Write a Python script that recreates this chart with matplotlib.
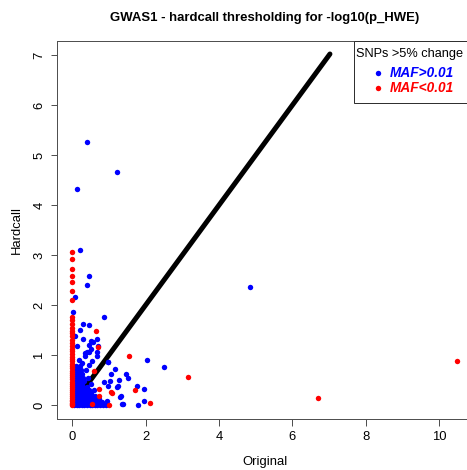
import matplotlib
matplotlib.use("Agg")
import matplotlib.pyplot as plt
from matplotlib.patches import Rectangle
from matplotlib.lines import Line2D

plt.rcParams['font.family'] = ['Liberation Sans', 'DejaVu Sans']

W, H = 467, 470
PX = 0.72  # points per pixel at dpi=100

# SNPs with no meaningful change: they sit on the identity diagonal
diag_x = [0.30, 7.02]
diag_y = [0.30, 7.02]

# SNPs with >5% change, MAF > 0.01 (original, hardcall)
blue_x = [0.41, 1.21, 0.12, 0.22, 0.45, 0.40, 0.08, 0.02, 0.86, 0.29, 0.45, 0.21,
          0.07, 0.30, 0.50, 0.57, 0.68, 0.14, 0.46, 0.35, 0.46, 0.66, 0.19, 0.26,
          0.53, 0.46, 0.96, 1.16, 1.05, 1.46, 1.53, 1.28, 0.87, 1.03, 1.25, 1.75,
          1.96, 1.33, 1.39, 1.78, 1.96, 0.94, 0.85, 2.03, 2.50, 4.83, 0.70, 0.52,
          0.41, 0.68, 0.34, 0.97, 1.31, 1.36, 1.23, 0.97,
          # dense low-value cluster
          0.05, 0.12, 0.19, 0.26, 0.33, 0.40, 0.47, 0.54, 0.61, 0.68, 0.76, 0.85, 0.92,
          0.04, 0.10, 0.17, 0.24, 0.31, 0.38, 0.45, 0.52, 0.60, 0.67, 0.74, 0.81,
          0.06, 0.13, 0.20, 0.27, 0.34, 0.41, 0.48, 0.55, 0.63, 0.72,
          0.04, 0.11, 0.18, 0.25, 0.32, 0.39, 0.46, 0.53, 0.62,
          0.07, 0.14, 0.21, 0.28, 0.35, 0.43, 0.51,
          0.05, 0.12, 0.19, 0.26, 0.33, 0.45, 0.58,
          0.08, 0.15, 0.22, 0.29, 0.40,
          0.06, 0.13, 0.20, 0.27, 0.52,
          0.09, 0.16, 0.24, 0.33,
          0.05, 0.12, 0.21, 0.30, 0.44,
          0.09, 0.18, 0.27,
          0.06, 0.15, 0.25, 0.38,
          0.11, 0.22]
blue_y = [5.26, 4.66, 4.33, 3.10, 2.59, 2.40, 2.17, 1.86, 1.76, 1.63, 1.60, 1.51,
          1.38, 1.32, 1.29, 1.26, 1.32, 1.18, 1.21, 1.04, 1.06, 0.98, 0.91, 0.84,
          0.88, 0.80, 0.86, 0.73, 0.63, 0.63, 0.54, 0.51, 0.46, 0.48, 0.38, 0.39,
          0.33, 0.19, 0.02, 0.00, 0.08, 0.08, 0.02, 0.90, 0.76, 2.36, 1.18, 1.12,
          1.06, 1.06, 0.99, 0.38, 0.16, 0.03, 0.36, 0.86,
          0.00, 0.00, 0.00, 0.00, 0.00, 0.00, 0.00, 0.00, 0.00, 0.00, 0.00, 0.00, 0.00,
          0.06, 0.06, 0.06, 0.06, 0.06, 0.06, 0.06, 0.06, 0.06, 0.06, 0.06, 0.06,
          0.12, 0.12, 0.12, 0.12, 0.12, 0.12, 0.12, 0.12, 0.12, 0.12,
          0.18, 0.18, 0.18, 0.18, 0.18, 0.18, 0.18, 0.18, 0.18,
          0.24, 0.24, 0.24, 0.24, 0.24, 0.24, 0.24,
          0.30, 0.30, 0.30, 0.30, 0.30, 0.30, 0.30,
          0.36, 0.36, 0.36, 0.36, 0.36,
          0.42, 0.42, 0.42, 0.42, 0.42,
          0.48, 0.48, 0.48, 0.48,
          0.55, 0.55, 0.55, 0.55, 0.55,
          0.62, 0.62, 0.62,
          0.70, 0.70, 0.70, 0.70,
          0.78, 0.78]

# SNPs with >5% change, MAF < 0.01 (original, hardcall)
red_x = [0.0] * 45 + [0.65, 0.69, 1.55, 3.16, 0.58, 0.72, 1.05, 1.07, 1.70, 2.12,
                      0.55, 0.99, 0.72, 6.69, 10.48]
red_y = [3.07, 2.93, 2.72, 2.59, 2.46, 2.29, 2.10, 1.76, 1.70, 1.62, 1.54, 1.49,
         1.44, 1.38, 1.30, 1.24, 1.19, 1.13, 1.08, 1.02, 0.97, 0.92, 0.88, 0.83,
         0.78, 0.74, 0.69, 0.65, 0.60, 0.56, 0.52, 0.47, 0.43, 0.39, 0.35, 0.31,
         0.27, 0.23, 0.19, 0.15, 0.11, 0.08, 0.05, 0.02, 0.00,
         1.48, 1.16, 0.98, 0.57, 0.68, 0.33, 0.26, 0.24, 0.30, 0.04,
         0.03, 0.00, 0.19, 0.15, 0.88]

x_ticks = [0, 2, 4, 6, 8, 10]
y_ticks = [0, 1, 2, 3, 4, 5, 6, 7]

fig = plt.figure(figsize=(W / 100, H / 100), dpi=100)

# plot region in pixels (it runs slightly past the right edge of the canvas)
left, right, top, bottom = 56.9, 472.3, 41.0, 419.0
ax = fig.add_axes([left / W, 1 - bottom / H, (right - left) / W, (bottom - top) / H])

ms = 3.9
ax.plot(diag_x, diag_y, color='black', lw=5.0 * PX, solid_capstyle='round', zorder=2)
ax.plot(blue_x, blue_y, 'o', color='#0000FF', ms=ms, mew=0, zorder=3)
ax.plot(red_x, red_y, 'o', color='#FF0000', ms=ms, mew=0, zorder=4)

ax.set_xlim(-0.419, 10.899)
ax.set_ylim(-0.28, 7.28)
ax.set_xticks(x_ticks)
ax.set_yticks(y_ticks)
ax.set_xticklabels([str(v) for v in x_ticks])
ax.set_yticklabels([str(v) for v in y_ticks], rotation=90, va='center')
for s in ax.spines.values():
    s.set_color('#505050')
    s.set_linewidth(1.0 * PX)
ax.tick_params(axis='both', direction='out', length=6.5 * PX, width=1.0 * PX,
               color='#505050', labelsize=13 * PX, labelcolor='black')
ax.tick_params(axis='x', pad=6 * PX)
ax.tick_params(axis='y', pad=5 * PX)

def fx(px):
    return px / W

def fy(py):
    return 1 - py / H

fig.text(fx((left + right) / 2), fy(18.5), 'GWAS1 - hardcall thresholding for -log10(p_HWE)',
         ha='center', va='center', fontsize=13.1 * PX, fontweight='bold')
fig.text(fx((left + right) / 2), fy(465.5), 'Original', ha='center', va='baseline',
         fontsize=13 * PX)
fig.text(fx(17), fy((top + bottom) / 2), 'Hardcall', ha='center', va='center',
         rotation=90, fontsize=13 * PX)

# legend box anchored to the top-right corner of the plot region
lg_left, lg_bottom = 354.0, 102.7
fig.patches.append(Rectangle((fx(lg_left), fy(lg_bottom)), (right - lg_left) / W,
                             (lg_bottom - top) / H, transform=fig.transFigure,
                             facecolor='white', edgecolor='#303030', lw=1.0 * PX, zorder=10))
fig.text(fx(355.5), fy(53.5), 'SNPs >5% change', ha='left', va='center',
         fontsize=12.8 * PX, zorder=11)
for py, label, col in [(72.7, 'MAF>0.01', '#0000FF'), (88.3, 'MAF<0.01', '#FF0000')]:
    fig.lines.append(Line2D([fx(378.3)], [fy(py)], marker='o', color=col, ms=ms, mew=0,
                            transform=fig.transFigure, zorder=11))
    fig.text(fx(390), fy(py), label, ha='left', va='center', color=col,
             fontsize=13.6 * PX, fontweight='bold', fontstyle='italic', zorder=11)

fig.savefig('out.png', dpi=100)
